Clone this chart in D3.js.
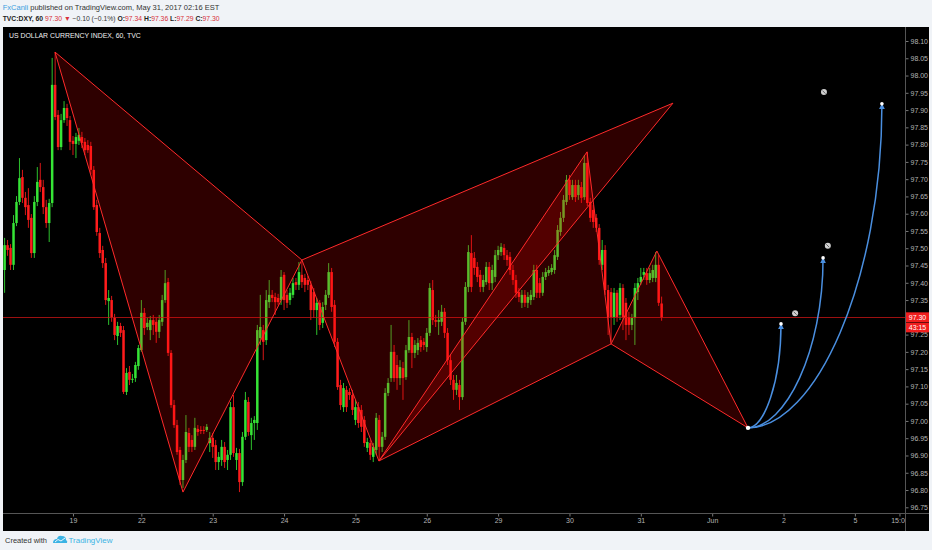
<!DOCTYPE html>
<html><head><meta charset="utf-8">
<script src="https://cdn.jsdelivr.net/npm/d3@7"></script>
<style>
html,body{margin:0;padding:0;background:#f0f3f7;}
svg{display:block;}
text{font-family:"Liberation Sans","DejaVu Sans",sans-serif;}
</style></head><body>
<svg id="c" width="932" height="550"></svg>
<script>
// ---------- DATA (hourly bars, index 0 = first visible bar) ----------
const opens=[97.437,97.509,97.501,97.452,97.573,97.634,97.706,97.646,97.625,97.588,
97.486,97.634,97.698,97.677,97.619,97.573,97.631,97.973,97.886,97.793,
97.871,97.906,97.871,97.811,97.802,97.811,97.822,97.808,97.799,97.796,
97.727,97.625,97.544,97.495,97.457,97.347,97.350,97.298,97.246,97.275,
97.263,97.084,97.142,97.119,97.124,97.159,97.205,97.313,97.272,97.263,
97.292,97.287,97.258,97.287,97.350,97.402,97.197,97.046,96.988,96.916,
96.829,96.887,96.965,96.945,96.925,96.977,96.974,96.974,96.974,96.936,
96.951,96.930,96.881,96.887,96.925,96.887,96.902,97.040,96.887,96.907,
96.823,96.954,97.055,96.959,96.994,96.994,97.240,97.263,97.234,97.344,
97.365,97.359,97.356,97.350,97.423,97.365,97.350,97.365,97.402,97.394,
97.423,97.414,97.408,97.394,97.373,97.321,97.342,97.284,97.336,97.365,
97.431,97.336,97.229,97.104,97.040,97.090,97.084,97.075,97.003,97.040,
97.032,97.003,96.922,96.936,96.896,96.916,97.003,96.925,96.954,97.081,
97.124,97.200,97.162,97.124,97.153,97.127,97.205,97.243,97.197,97.205,
97.234,97.229,97.214,97.255,97.379,97.292,97.287,97.287,97.316,97.255,
97.176,97.119,97.090,97.104,97.069,97.287,97.388,97.486,97.472,97.446,
97.423,97.388,97.402,97.446,97.399,97.417,97.480,97.489,97.501,97.480,
97.475,97.437,97.408,97.373,97.342,97.365,97.342,97.350,97.359,97.437,
97.399,97.371,97.417,97.428,97.431,97.437,97.475,97.547,97.588,97.634,
97.698,97.648,97.683,97.654,97.677,97.648,97.747,97.634,97.611,97.588,
97.559,97.452,97.495,97.379,97.373,97.301,97.371,97.307,97.385,97.342,
97.301,97.278,97.298,97.373,97.402,97.423,97.428,97.408,97.414,97.414,
97.452,97.340];
const highs=[97.530,97.524,97.512,97.596,97.651,97.761,97.727,97.663,97.674,97.599,
97.651,97.735,97.747,97.698,97.640,97.643,98.051,98.068,97.900,97.889,
97.926,97.918,97.883,97.825,97.834,97.848,97.837,97.819,97.813,97.808,
97.738,97.640,97.559,97.507,97.472,97.379,97.362,97.310,97.287,97.284,
97.275,97.153,97.159,97.136,97.171,97.220,97.350,97.327,97.298,97.304,
97.307,97.298,97.307,97.365,97.437,97.414,97.205,97.061,97.003,96.925,
96.902,97.017,96.980,96.959,97.009,96.988,96.985,96.985,96.991,96.968,
96.965,96.945,96.910,96.945,96.939,96.916,97.055,97.075,96.922,96.919,
96.968,97.084,97.069,97.009,97.014,97.278,97.365,97.278,97.379,97.408,
97.379,97.371,97.368,97.437,97.431,97.379,97.385,97.414,97.414,97.460,
97.460,97.426,97.420,97.405,97.385,97.356,97.350,97.344,97.379,97.457,
97.443,97.350,97.240,97.119,97.110,97.101,97.095,97.090,97.061,97.055,
97.046,97.014,96.951,96.945,96.936,97.023,97.017,96.968,97.095,97.124,
97.278,97.220,97.191,97.176,97.171,97.220,97.292,97.255,97.234,97.240,
97.246,97.240,97.269,97.399,97.408,97.307,97.321,97.336,97.327,97.269,
97.191,97.133,97.133,97.119,97.298,97.402,97.509,97.538,97.489,97.460,
97.437,97.423,97.460,97.460,97.452,97.495,97.507,97.515,97.512,97.495,
97.489,97.452,97.423,97.385,97.379,97.379,97.373,97.379,97.452,97.452,
97.414,97.431,97.443,97.449,97.454,97.495,97.567,97.605,97.654,97.712,
97.712,97.698,97.698,97.698,97.692,97.770,97.779,97.646,97.625,97.599,
97.570,97.524,97.509,97.394,97.385,97.385,97.379,97.399,97.396,97.356,
97.316,97.310,97.399,97.414,97.443,97.443,97.443,97.443,97.452,97.489,
97.480,97.360];
const lows=[97.371,97.478,97.437,97.437,97.564,97.625,97.631,97.596,97.559,97.472,
97.472,97.622,97.663,97.599,97.559,97.518,97.619,97.871,97.784,97.784,
97.863,97.854,97.784,97.770,97.761,97.799,97.790,97.770,97.776,97.715,
97.611,97.536,97.472,97.443,97.336,97.278,97.287,97.234,97.220,97.243,
97.078,97.075,97.104,97.110,97.113,97.148,97.200,97.249,97.263,97.234,
97.249,97.226,97.240,97.275,97.342,97.188,97.038,96.980,96.902,96.815,
96.806,96.878,96.910,96.910,96.916,96.957,96.962,96.962,96.968,96.910,
96.893,96.858,96.858,96.870,96.864,96.858,96.887,96.896,96.858,96.794,
96.812,96.945,96.957,96.916,96.945,96.974,97.220,97.176,97.220,97.327,
97.344,97.307,97.336,97.336,97.321,97.327,97.336,97.356,97.379,97.379,
97.385,97.373,97.379,97.292,97.298,97.249,97.263,97.269,97.321,97.356,
97.316,97.214,97.090,97.032,97.026,97.026,97.061,97.017,96.988,96.980,
96.968,96.925,96.910,96.887,96.881,96.902,96.884,96.910,96.945,97.072,
97.113,97.113,97.090,97.104,97.061,97.119,97.197,97.153,97.182,97.191,
97.200,97.205,97.200,97.246,97.278,97.272,97.249,97.275,97.240,97.162,
97.104,97.061,97.075,97.032,97.061,97.278,97.373,97.373,97.423,97.402,
97.373,97.373,97.394,97.379,97.379,97.402,97.466,97.478,97.466,97.449,
97.423,97.394,97.356,97.344,97.327,97.330,97.327,97.336,97.350,97.356,
97.356,97.362,97.408,97.420,97.423,97.426,97.466,97.536,97.576,97.625,
97.640,97.640,97.634,97.640,97.631,97.640,97.622,97.576,97.559,97.547,
97.452,97.437,97.365,97.249,97.229,97.278,97.287,97.292,97.263,97.234,
97.249,97.263,97.220,97.350,97.394,97.408,97.394,97.399,97.402,97.402,
97.333,97.290];
const closes=[97.509,97.495,97.452,97.573,97.634,97.703,97.646,97.619,97.582,97.486,
97.634,97.692,97.677,97.619,97.573,97.631,97.973,97.880,97.793,97.871,
97.906,97.877,97.808,97.802,97.822,97.828,97.805,97.784,97.784,97.727,
97.619,97.547,97.486,97.457,97.350,97.356,97.301,97.249,97.275,97.255,
97.084,97.139,97.119,97.122,97.162,97.211,97.313,97.269,97.284,97.292,
97.278,97.258,97.292,97.350,97.399,97.197,97.046,96.988,96.910,96.829,
96.887,96.968,96.925,96.925,96.980,96.968,96.971,96.971,96.983,96.951,
96.925,96.881,96.896,96.925,96.881,96.902,97.040,96.907,96.907,96.823,
96.954,97.061,96.968,96.994,97.003,97.263,97.272,97.229,97.350,97.365,
97.356,97.344,97.344,97.417,97.350,97.342,97.371,97.399,97.394,97.431,
97.402,97.394,97.394,97.321,97.321,97.342,97.278,97.330,97.365,97.431,
97.330,97.229,97.098,97.046,97.095,97.040,97.075,97.032,97.040,96.994,
96.983,96.936,96.939,96.902,96.925,97.009,96.925,96.954,97.081,97.110,
97.200,97.124,97.124,97.156,97.124,97.205,97.243,97.197,97.220,97.226,
97.214,97.220,97.255,97.385,97.292,97.287,97.292,97.316,97.255,97.176,
97.119,97.090,97.110,97.069,97.287,97.388,97.489,97.388,97.443,97.417,
97.388,97.408,97.446,97.399,97.437,97.480,97.495,97.504,97.480,97.466,
97.437,97.408,97.371,97.359,97.365,97.342,97.359,97.365,97.437,97.371,
97.371,97.417,97.431,97.437,97.443,97.480,97.553,97.588,97.640,97.698,
97.654,97.683,97.648,97.683,97.646,97.747,97.631,97.588,97.576,97.559,
97.466,97.495,97.379,97.301,97.301,97.371,97.301,97.385,97.301,97.278,
97.278,97.298,97.385,97.399,97.417,97.431,97.408,97.428,97.437,97.452,
97.342,97.300];

const priceTicks=[96.75,96.80,96.85,96.90,96.95,97.00,97.05,97.10,97.15,97.20,97.25,97.30,97.35,97.40,
97.45,97.50,97.55,97.60,97.65,97.70,97.75,97.80,97.85,97.90,97.95,98.00,98.05,98.10];
const timeTickLabels=["19","22","23","24","25","26","29","30","31","Jun","2","5","15:00"];
const timeTickIndex=[23,46,70,94,118,142,166,190,214,238,262,286,301];

// harmonic pattern points: X, A, B, C, D
const pat1Index=[16.95,60.0,100.0,125.9,224.8];
const pat1Price=[98.068,96.794,97.466,96.884,97.920];
const pat2Index=[125.9,195.9,204.0,219.4,250.05];
const pat2Price=[96.884,97.779,97.223,97.492,96.980];
// projected curves from pattern-2 D
const projIndex=[261.15,275.3,295.1];
const projPrice=[97.281,97.472,97.918];
const iconIndex=[265.9,276.9,275.6];
const iconPrice=[97.312,97.507,97.952];
const lastPrice=97.30;

// header pieces: [text, colour, bold]
const header1=[["FxCanli","#3c9fe0",false],[" published on TradingView.com, May 31, 2017 02:16 EST","#333",false]];
const header2=[["TVC:DXY, 60 ","#222",true],["97.30 ","#d8313a",false],["▼ ","#d8313a",false],
  ["−0.10 (−0.1%) ","#333",false],["O:","#222",true],["97.34 ","#d8313a",false],
  ["H:","#222",true],["97.36 ","#d8313a",false],["L:","#222",true],["97.29 ","#d8313a",false],
  ["C:","#222",true],["97.30","#d8313a",false]];

// ---------- LAYOUT ----------
const svg=d3.select("#c");
const panel={x0:3,y0:27,x1:929,y1:531};
const plotRight=905, plotBottom=513;
const x=d3.scaleLinear().domain([0,300]).range([4.6,4.6+2.973*300]);
const y=d3.scaleLinear().domain([96.75,98.10]).range([507.3,41]);
const GREEN="#36e436", RED="#ff1c1c";

svg.append("rect").attr("width",932).attr("height",550).attr("fill","#f0f3f7");
svg.append("rect").attr("x",panel.x0).attr("y",panel.y0).attr("width",panel.x1-panel.x0).attr("height",panel.y1-panel.y0).attr("fill","#000");

const defs=svg.append("defs");
defs.append("clipPath").attr("id","plotclip").append("rect")
  .attr("x",panel.x0).attr("y",panel.y0).attr("width",plotRight-panel.x0).attr("height",plotBottom-panel.y0);
defs.append("clipPath").attr("id","timeclip").append("rect")
  .attr("x",panel.x0).attr("y",plotBottom).attr("width",plotRight-panel.x0).attr("height",panel.y1-plotBottom);
defs.append("marker").attr("id","arr").attr("viewBox","0 0 10 10").attr("refX",9).attr("refY",5)
  .attr("markerWidth",4).attr("markerHeight",4).attr("orient","auto")
  .append("path").attr("d","M0,0L10,5L0,10z").attr("fill","#4a8fe0");

const plot=svg.append("g").attr("clip-path","url(#plotclip)");

// candles
const bars=closes.map((c,i)=>({i,o:opens[i],h:highs[i],l:lows[i],c}));
plot.append("g").selectAll("line").data(bars).join("line")
  .attr("x1",d=>x(d.i)).attr("x2",d=>x(d.i))
  .attr("y1",d=>y(d.h)).attr("y2",d=>y(d.l))
  .attr("stroke",d=>d.c>=d.o?GREEN:RED).attr("stroke-width",1).attr("opacity",0.85);
plot.append("g").selectAll("rect").data(bars).join("rect")
  .attr("x",d=>x(d.i)-1.25).attr("width",2.5)
  .attr("y",d=>y(Math.max(d.o,d.c)))
  .attr("height",d=>Math.max(1,Math.abs(y(d.o)-y(d.c))))
  .attr("fill",d=>d.c>=d.o?GREEN:RED);

// last price line
plot.append("line").attr("x1",panel.x0).attr("x2",plotRight)
  .attr("y1",Math.round(y(lastPrice))+0.5).attr("y2",Math.round(y(lastPrice))+0.5)
  .attr("stroke","#d01616").attr("stroke-width",1).attr("opacity",0.75);

// patterns
function tri(idx,px,ids){
  return ids.map(k=>[x(idx[k]),y(px[k])]);
}
const triangles=[tri(pat1Index,pat1Price,[0,1,2]),tri(pat1Index,pat1Price,[2,3,4]),
                 tri(pat2Index,pat2Price,[0,1,2]),tri(pat2Index,pat2Price,[2,3,4])];
const lineGen=d3.line();
plot.append("g").selectAll("path").data(triangles).join("path")
  .attr("d",d=>lineGen(d)+"Z").attr("fill","rgba(255,0,0,0.18)").attr("stroke","none");
plot.append("g").selectAll("path").data(triangles).join("path")
  .attr("d",d=>lineGen(d)+"Z").attr("fill","none").attr("stroke","#ff2a2a").attr("stroke-width",1);

// projection curves
const D=[x(pat2Index[4]),y(pat2Price[4])];
const curves=projIndex.map((pi,k)=>{
  const E=[x(pi),y(projPrice[k])];
  const p=d3.path();
  p.moveTo(D[0],D[1]);
  p.bezierCurveTo(D[0]+0.5*(E[0]-D[0]),D[1],E[0],D[1]+0.45*(E[1]-D[1]),E[0],E[1]);
  return {d:p.toString(),E};
});
plot.append("g").selectAll("path").data(curves).join("path")
  .attr("d",d=>d.d).attr("fill","none").attr("stroke","#4a8fe0").attr("stroke-width",1.5)
  .attr("marker-end","url(#arr)");
plot.append("g").selectAll("circle").data(curves).join("circle")
  .attr("cx",d=>d.E[0]).attr("cy",d=>d.E[1]).attr("r",1.8).attr("fill","#fff");
plot.append("circle").attr("cx",D[0]).attr("cy",D[1]).attr("r",2.2).attr("fill","#fff");
const icons=plot.append("g").selectAll("g").data(iconIndex.map((v,k)=>[x(v),y(iconPrice[k])])).join("g")
  .attr("transform",d=>`translate(${d[0]},${d[1]})`);
icons.append("circle").attr("r",3).attr("fill","#d0d0d0");
icons.append("path").attr("d","M-1.5,-1.5L1.5,1.5").attr("stroke","#444").attr("stroke-width",0.8);

// axes
const yAxis=d3.axisRight(y).tickValues(priceTicks).tickFormat(d3.format(".2f")).tickSize(3).tickPadding(2);
const ya=svg.append("g").attr("transform",`translate(${plotRight+0.5},0)`).call(yAxis);
ya.select(".domain").remove();
ya.selectAll("line").attr("stroke","#777");
ya.selectAll("text").attr("fill","#b4b4b4").style("font-size","7px").style("font-family","Liberation Sans, sans-serif");
// the label under the last-price box is covered in the original
ya.selectAll(".tick").filter(d=>Math.abs(d-lastPrice)<1e-9).select("text").attr("opacity",0);

const xAxis=d3.axisBottom(x).tickValues(timeTickIndex).tickFormat((d,i)=>timeTickLabels[i]).tickSize(3).tickPadding(2);
const xa=svg.append("g").attr("clip-path","url(#timeclip)").append("g")
  .attr("transform",`translate(0,${plotBottom+0.5})`).call(xAxis);
xa.select(".domain").remove();
xa.selectAll("line").attr("stroke","#777");
xa.selectAll("text").attr("fill","#b4b4b4").style("font-size","7px").style("font-family","Liberation Sans, sans-serif");

// separators
svg.append("line").attr("x1",plotRight+0.5).attr("x2",plotRight+0.5).attr("y1",panel.y0).attr("y2",panel.y1).attr("stroke","#555");
svg.append("line").attr("x1",panel.x0).attr("x2",panel.x1).attr("y1",plotBottom+0.5).attr("y2",plotBottom+0.5).attr("stroke","#555");

// last price boxes
const ly=y(lastPrice);
svg.append("rect").attr("x",plotRight+1).attr("y",ly-5).attr("width",23).attr("height",10).attr("fill","#f01e1e");
svg.append("text").attr("x",plotRight+12.5).attr("y",ly+2.5).attr("text-anchor","middle").attr("fill","#fff")
  .style("font-size","7px").text(d3.format(".2f")(lastPrice));
svg.append("rect").attr("x",plotRight+1).attr("y",ly+5.5).attr("width",23).attr("height",9.5).attr("fill","#f01e1e");
svg.append("text").attr("x",plotRight+12.5).attr("y",ly+12.7).attr("text-anchor","middle").attr("fill","#fff")
  .style("font-size","7px").text("43:15");

// fit a text to a target width by choosing its font size (natural glyph widths)
function fitText(sel,target,startSize){
  sel.style("font-size",startSize+"px");
  const w=sel.node().getComputedTextLength();
  if(w>0) sel.style("font-size",(startSize*target/w).toFixed(2)+"px");
  return sel;
}

// title in panel
fitText(svg.append("text").attr("x",9).attr("y",37.5).attr("fill","#f0f0f0")
  .text("US DOLLAR CURRENCY INDEX, 60, TVC"),132,8);

// header (one text element per line, coloured spans flowing naturally)
function headerLine(parts,yy,target){
  const t=svg.append("text").attr("x",2.7).attr("y",yy).attr("xml:space","preserve").style("white-space","pre");
  t.selectAll("tspan").data(parts).join("tspan")
    .attr("fill",d=>d[1]).style("font-weight",d=>d[2]?"bold":"normal").text(d=>d[0]);
  fitText(t,target,8.5);
}
headerLine(header1,9.5,217);
headerLine(header2,20.5,217);

// footer
fitText(svg.append("text").attr("x",5).attr("y",543).attr("fill","#333").text("Created with"),42,8);
const logo=svg.append("g").attr("transform","translate(53,535)");
logo.append("path").attr("d","M0,8 Q0,4 4,4 Q5,0 9,1 Q13,1 13,5 Q15,6 14,8 Z").attr("fill","#3bb3e4");
logo.append("path").attr("d","M2,7 L5,4.5 L8,6 L12,3").attr("fill","none").attr("stroke","#fff").attr("stroke-width",0.9);
fitText(svg.append("text").attr("x",68.5).attr("y",543).attr("fill","#3bb3e4").text("TradingView"),44,8);
</script>
</body></html>
